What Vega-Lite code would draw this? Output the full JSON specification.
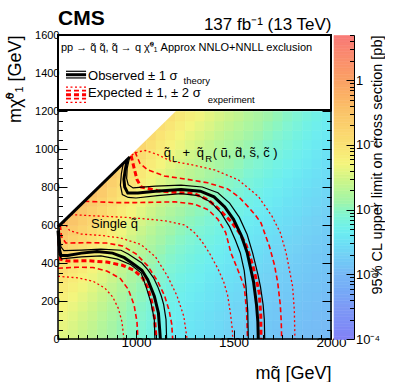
{
"$schema":"https://vega.github.io/schema/vega-lite/v6.json",
"background":"white",
"padding":{"left":6,"top":8,"right":0,"bottom":0},
"config":{"font":"Liberation Sans","view":{"stroke":null},"axis":{"grid":false,"labelColor":"black","titleColor":"black","tickColor":"black","titleFontWeight":"normal"},"title":{"color":"black"}},
"spacing":3,
"bounds":"flush",
"datasets":{
"heat":[
{"x":600,"y":0,"v":-1.43},{"x":600,"y":50,"v":-1.39},{"x":600,"y":100,"v":-1.35},{"x":600,"y":150,"v":-1.28},{"x":600,"y":200,"v":-1.21},{"x":600,"y":250,"v":-1.13},{"x":600,"y":300,"v":-1.04},{"x":600,"y":350,"v":-0.95},{"x":600,"y":400,"v":-0.84},{"x":600,"y":450,"v":-0.74},{"x":600,"y":500,"v":-0.62},{"x":600,"y":550,"v":-0.5},{"x":600,"y":600,"v":-0.38},
{"x":650,"y":0,"v":-1.51},{"x":650,"y":50,"v":-1.48},{"x":650,"y":100,"v":-1.43},{"x":650,"y":150,"v":-1.37},{"x":650,"y":200,"v":-1.31},{"x":650,"y":250,"v":-1.23},{"x":650,"y":300,"v":-1.15},{"x":650,"y":350,"v":-1.06},{"x":650,"y":400,"v":-0.97},{"x":650,"y":450,"v":-0.87},{"x":650,"y":500,"v":-0.76},{"x":650,"y":550,"v":-0.65},{"x":650,"y":600,"v":-0.53},{"x":650,"y":650,"v":-0.41},
{"x":700,"y":0,"v":-1.59},{"x":700,"y":50,"v":-1.56},{"x":700,"y":100,"v":-1.52},{"x":700,"y":150,"v":-1.46},{"x":700,"y":200,"v":-1.4},{"x":700,"y":250,"v":-1.33},{"x":700,"y":300,"v":-1.25},{"x":700,"y":350,"v":-1.17},{"x":700,"y":400,"v":-1.08},{"x":700,"y":450,"v":-0.99},{"x":700,"y":500,"v":-0.89},{"x":700,"y":550,"v":-0.78},{"x":700,"y":600,"v":-0.68},{"x":700,"y":650,"v":-0.56},{"x":700,"y":700,"v":-0.45},
{"x":750,"y":0,"v":-1.67},{"x":750,"y":50,"v":-1.64},{"x":750,"y":100,"v":-1.6},{"x":750,"y":150,"v":-1.55},{"x":750,"y":200,"v":-1.49},{"x":750,"y":250,"v":-1.43},{"x":750,"y":300,"v":-1.36},{"x":750,"y":350,"v":-1.28},{"x":750,"y":400,"v":-1.2},{"x":750,"y":450,"v":-1.11},{"x":750,"y":500,"v":-1.01},{"x":750,"y":550,"v":-0.92},{"x":750,"y":600,"v":-0.82},{"x":750,"y":650,"v":-0.71},{"x":750,"y":700,"v":-0.6},{"x":750,"y":750,"v":-0.49},
{"x":800,"y":0,"v":-1.76},{"x":800,"y":50,"v":-1.74},{"x":800,"y":100,"v":-1.7},{"x":800,"y":150,"v":-1.65},{"x":800,"y":200,"v":-1.59},{"x":800,"y":250,"v":-1.53},{"x":800,"y":300,"v":-1.46},{"x":800,"y":350,"v":-1.39},{"x":800,"y":400,"v":-1.31},{"x":800,"y":450,"v":-1.23},{"x":800,"y":500,"v":-1.14},{"x":800,"y":550,"v":-1.05},{"x":800,"y":600,"v":-0.95},{"x":800,"y":650,"v":-0.85},{"x":800,"y":700,"v":-0.75},{"x":800,"y":750,"v":-0.64},{"x":800,"y":800,"v":-0.53},
{"x":850,"y":0,"v":-1.86},{"x":850,"y":50,"v":-1.84},{"x":850,"y":100,"v":-1.8},{"x":850,"y":150,"v":-1.76},{"x":850,"y":200,"v":-1.7},{"x":850,"y":250,"v":-1.65},{"x":850,"y":300,"v":-1.58},{"x":850,"y":350,"v":-1.51},{"x":850,"y":400,"v":-1.44},{"x":850,"y":450,"v":-1.36},{"x":850,"y":500,"v":-1.28},{"x":850,"y":550,"v":-1.19},{"x":850,"y":600,"v":-1.1},{"x":850,"y":650,"v":-1.01},{"x":850,"y":700,"v":-0.91},{"x":850,"y":750,"v":-0.81},{"x":850,"y":800,"v":-0.71},{"x":850,"y":850,"v":-0.6},
{"x":900,"y":0,"v":-1.96},{"x":900,"y":50,"v":-1.94},{"x":900,"y":100,"v":-1.91},{"x":900,"y":150,"v":-1.86},{"x":900,"y":200,"v":-1.81},{"x":900,"y":250,"v":-1.76},{"x":900,"y":300,"v":-1.7},{"x":900,"y":350,"v":-1.64},{"x":900,"y":400,"v":-1.57},{"x":900,"y":450,"v":-1.5},{"x":900,"y":500,"v":-1.42},{"x":900,"y":550,"v":-1.34},{"x":900,"y":600,"v":-1.25},{"x":900,"y":650,"v":-1.17},{"x":900,"y":700,"v":-1.08},{"x":900,"y":750,"v":-0.98},{"x":900,"y":800,"v":-0.88},{"x":900,"y":850,"v":-0.78},{"x":900,"y":900,"v":-0.68},
{"x":950,"y":0,"v":-2.05},{"x":950,"y":50,"v":-2.03},{"x":950,"y":100,"v":-2.0},{"x":950,"y":150,"v":-1.96},{"x":950,"y":200,"v":-1.92},{"x":950,"y":250,"v":-1.87},{"x":950,"y":300,"v":-1.81},{"x":950,"y":350,"v":-1.75},{"x":950,"y":400,"v":-1.69},{"x":950,"y":450,"v":-1.62},{"x":950,"y":500,"v":-1.55},{"x":950,"y":550,"v":-1.47},{"x":950,"y":600,"v":-1.39},{"x":950,"y":650,"v":-1.31},{"x":950,"y":700,"v":-1.23},{"x":950,"y":750,"v":-1.14},{"x":950,"y":800,"v":-1.05},{"x":950,"y":850,"v":-0.96},{"x":950,"y":900,"v":-0.86},{"x":950,"y":950,"v":-0.76},
{"x":1000,"y":0,"v":-2.13},{"x":1000,"y":50,"v":-2.11},{"x":1000,"y":100,"v":-2.08},{"x":1000,"y":150,"v":-2.05},{"x":1000,"y":200,"v":-2.0},{"x":1000,"y":250,"v":-1.96},{"x":1000,"y":300,"v":-1.91},{"x":1000,"y":350,"v":-1.85},{"x":1000,"y":400,"v":-1.79},{"x":1000,"y":450,"v":-1.72},{"x":1000,"y":500,"v":-1.66},{"x":1000,"y":550,"v":-1.59},{"x":1000,"y":600,"v":-1.51},{"x":1000,"y":650,"v":-1.44},{"x":1000,"y":700,"v":-1.36},{"x":1000,"y":750,"v":-1.27},{"x":1000,"y":800,"v":-1.19},{"x":1000,"y":850,"v":-1.1},{"x":1000,"y":900,"v":-1.01},{"x":1000,"y":950,"v":-0.92},{"x":1000,"y":1000,"v":-0.82},
{"x":1050,"y":0,"v":-2.22},{"x":1050,"y":50,"v":-2.2},{"x":1050,"y":100,"v":-2.17},{"x":1050,"y":150,"v":-2.13},{"x":1050,"y":200,"v":-2.09},{"x":1050,"y":250,"v":-2.05},{"x":1050,"y":300,"v":-2.0},{"x":1050,"y":350,"v":-1.95},{"x":1050,"y":400,"v":-1.89},{"x":1050,"y":450,"v":-1.83},{"x":1050,"y":500,"v":-1.77},{"x":1050,"y":550,"v":-1.7},{"x":1050,"y":600,"v":-1.63},{"x":1050,"y":650,"v":-1.56},{"x":1050,"y":700,"v":-1.49},{"x":1050,"y":750,"v":-1.41},{"x":1050,"y":800,"v":-1.33},{"x":1050,"y":850,"v":-1.25},{"x":1050,"y":900,"v":-1.16},{"x":1050,"y":950,"v":-1.07},{"x":1050,"y":1000,"v":-0.98},{"x":1050,"y":1050,"v":-0.89},
{"x":1100,"y":0,"v":-2.3},{"x":1100,"y":50,"v":-2.28},{"x":1100,"y":100,"v":-2.25},{"x":1100,"y":150,"v":-2.22},{"x":1100,"y":200,"v":-2.18},{"x":1100,"y":250,"v":-2.14},{"x":1100,"y":300,"v":-2.09},{"x":1100,"y":350,"v":-2.04},{"x":1100,"y":400,"v":-1.99},{"x":1100,"y":450,"v":-1.93},{"x":1100,"y":500,"v":-1.87},{"x":1100,"y":550,"v":-1.81},{"x":1100,"y":600,"v":-1.74},{"x":1100,"y":650,"v":-1.67},{"x":1100,"y":700,"v":-1.6},{"x":1100,"y":750,"v":-1.53},{"x":1100,"y":800,"v":-1.45},{"x":1100,"y":850,"v":-1.38},{"x":1100,"y":900,"v":-1.29},{"x":1100,"y":950,"v":-1.21},{"x":1100,"y":1000,"v":-1.13},{"x":1100,"y":1050,"v":-1.04},{"x":1100,"y":1100,"v":-0.95},
{"x":1150,"y":0,"v":-2.37},{"x":1150,"y":50,"v":-2.35},{"x":1150,"y":100,"v":-2.32},{"x":1150,"y":150,"v":-2.29},{"x":1150,"y":200,"v":-2.25},{"x":1150,"y":250,"v":-2.21},{"x":1150,"y":300,"v":-2.17},{"x":1150,"y":350,"v":-2.12},{"x":1150,"y":400,"v":-2.07},{"x":1150,"y":450,"v":-2.02},{"x":1150,"y":500,"v":-1.96},{"x":1150,"y":550,"v":-1.9},{"x":1150,"y":600,"v":-1.84},{"x":1150,"y":650,"v":-1.77},{"x":1150,"y":700,"v":-1.7},{"x":1150,"y":750,"v":-1.63},{"x":1150,"y":800,"v":-1.56},{"x":1150,"y":850,"v":-1.49},{"x":1150,"y":900,"v":-1.41},{"x":1150,"y":950,"v":-1.33},{"x":1150,"y":1000,"v":-1.25},{"x":1150,"y":1050,"v":-1.17},{"x":1150,"y":1100,"v":-1.08},{"x":1150,"y":1150,"v":-0.99},
{"x":1200,"y":0,"v":-2.43},{"x":1200,"y":50,"v":-2.41},{"x":1200,"y":100,"v":-2.38},{"x":1200,"y":150,"v":-2.35},{"x":1200,"y":200,"v":-2.32},{"x":1200,"y":250,"v":-2.28},{"x":1200,"y":300,"v":-2.24},{"x":1200,"y":350,"v":-2.19},{"x":1200,"y":400,"v":-2.14},{"x":1200,"y":450,"v":-2.09},{"x":1200,"y":500,"v":-2.04},{"x":1200,"y":550,"v":-1.98},{"x":1200,"y":600,"v":-1.92},{"x":1200,"y":650,"v":-1.86},{"x":1200,"y":700,"v":-1.79},{"x":1200,"y":750,"v":-1.73},{"x":1200,"y":800,"v":-1.66},{"x":1200,"y":850,"v":-1.59},{"x":1200,"y":900,"v":-1.51},{"x":1200,"y":950,"v":-1.44},{"x":1200,"y":1000,"v":-1.36},{"x":1200,"y":1050,"v":-1.28},{"x":1200,"y":1100,"v":-1.2},{"x":1200,"y":1150,"v":-1.12},
{"x":1250,"y":0,"v":-2.48},{"x":1250,"y":50,"v":-2.46},{"x":1250,"y":100,"v":-2.44},{"x":1250,"y":150,"v":-2.41},{"x":1250,"y":200,"v":-2.38},{"x":1250,"y":250,"v":-2.34},{"x":1250,"y":300,"v":-2.3},{"x":1250,"y":350,"v":-2.25},{"x":1250,"y":400,"v":-2.21},{"x":1250,"y":450,"v":-2.16},{"x":1250,"y":500,"v":-2.11},{"x":1250,"y":550,"v":-2.05},{"x":1250,"y":600,"v":-2.0},{"x":1250,"y":650,"v":-1.94},{"x":1250,"y":700,"v":-1.88},{"x":1250,"y":750,"v":-1.81},{"x":1250,"y":800,"v":-1.75},{"x":1250,"y":850,"v":-1.68},{"x":1250,"y":900,"v":-1.61},{"x":1250,"y":950,"v":-1.54},{"x":1250,"y":1000,"v":-1.46},{"x":1250,"y":1050,"v":-1.39},{"x":1250,"y":1100,"v":-1.31},{"x":1250,"y":1150,"v":-1.23},
{"x":1300,"y":0,"v":-2.53},{"x":1300,"y":50,"v":-2.51},{"x":1300,"y":100,"v":-2.49},{"x":1300,"y":150,"v":-2.46},{"x":1300,"y":200,"v":-2.43},{"x":1300,"y":250,"v":-2.39},{"x":1300,"y":300,"v":-2.35},{"x":1300,"y":350,"v":-2.31},{"x":1300,"y":400,"v":-2.27},{"x":1300,"y":450,"v":-2.22},{"x":1300,"y":500,"v":-2.17},{"x":1300,"y":550,"v":-2.12},{"x":1300,"y":600,"v":-2.06},{"x":1300,"y":650,"v":-2.0},{"x":1300,"y":700,"v":-1.94},{"x":1300,"y":750,"v":-1.88},{"x":1300,"y":800,"v":-1.82},{"x":1300,"y":850,"v":-1.75},{"x":1300,"y":900,"v":-1.68},{"x":1300,"y":950,"v":-1.62},{"x":1300,"y":1000,"v":-1.54},{"x":1300,"y":1050,"v":-1.47},{"x":1300,"y":1100,"v":-1.4},{"x":1300,"y":1150,"v":-1.32},
{"x":1350,"y":0,"v":-2.58},{"x":1350,"y":50,"v":-2.56},{"x":1350,"y":100,"v":-2.54},{"x":1350,"y":150,"v":-2.51},{"x":1350,"y":200,"v":-2.48},{"x":1350,"y":250,"v":-2.45},{"x":1350,"y":300,"v":-2.41},{"x":1350,"y":350,"v":-2.37},{"x":1350,"y":400,"v":-2.33},{"x":1350,"y":450,"v":-2.28},{"x":1350,"y":500,"v":-2.23},{"x":1350,"y":550,"v":-2.18},{"x":1350,"y":600,"v":-2.13},{"x":1350,"y":650,"v":-2.07},{"x":1350,"y":700,"v":-2.01},{"x":1350,"y":750,"v":-1.95},{"x":1350,"y":800,"v":-1.89},{"x":1350,"y":850,"v":-1.83},{"x":1350,"y":900,"v":-1.76},{"x":1350,"y":950,"v":-1.69},{"x":1350,"y":1000,"v":-1.63},{"x":1350,"y":1050,"v":-1.55},{"x":1350,"y":1100,"v":-1.48},{"x":1350,"y":1150,"v":-1.41},
{"x":1400,"y":0,"v":-2.63},{"x":1400,"y":50,"v":-2.61},{"x":1400,"y":100,"v":-2.59},{"x":1400,"y":150,"v":-2.57},{"x":1400,"y":200,"v":-2.53},{"x":1400,"y":250,"v":-2.5},{"x":1400,"y":300,"v":-2.47},{"x":1400,"y":350,"v":-2.43},{"x":1400,"y":400,"v":-2.38},{"x":1400,"y":450,"v":-2.34},{"x":1400,"y":500,"v":-2.29},{"x":1400,"y":550,"v":-2.24},{"x":1400,"y":600,"v":-2.19},{"x":1400,"y":650,"v":-2.14},{"x":1400,"y":700,"v":-2.08},{"x":1400,"y":750,"v":-2.02},{"x":1400,"y":800,"v":-1.96},{"x":1400,"y":850,"v":-1.9},{"x":1400,"y":900,"v":-1.84},{"x":1400,"y":950,"v":-1.77},{"x":1400,"y":1000,"v":-1.71},{"x":1400,"y":1050,"v":-1.64},{"x":1400,"y":1100,"v":-1.57},{"x":1400,"y":1150,"v":-1.5},
{"x":1450,"y":0,"v":-2.68},{"x":1450,"y":50,"v":-2.66},{"x":1450,"y":100,"v":-2.64},{"x":1450,"y":150,"v":-2.62},{"x":1450,"y":200,"v":-2.59},{"x":1450,"y":250,"v":-2.56},{"x":1450,"y":300,"v":-2.52},{"x":1450,"y":350,"v":-2.48},{"x":1450,"y":400,"v":-2.44},{"x":1450,"y":450,"v":-2.4},{"x":1450,"y":500,"v":-2.35},{"x":1450,"y":550,"v":-2.31},{"x":1450,"y":600,"v":-2.26},{"x":1450,"y":650,"v":-2.2},{"x":1450,"y":700,"v":-2.15},{"x":1450,"y":750,"v":-2.09},{"x":1450,"y":800,"v":-2.04},{"x":1450,"y":850,"v":-1.98},{"x":1450,"y":900,"v":-1.91},{"x":1450,"y":950,"v":-1.85},{"x":1450,"y":1000,"v":-1.79},{"x":1450,"y":1050,"v":-1.72},{"x":1450,"y":1100,"v":-1.65},{"x":1450,"y":1150,"v":-1.58},
{"x":1500,"y":0,"v":-2.72},{"x":1500,"y":50,"v":-2.7},{"x":1500,"y":100,"v":-2.68},{"x":1500,"y":150,"v":-2.66},{"x":1500,"y":200,"v":-2.63},{"x":1500,"y":250,"v":-2.6},{"x":1500,"y":300,"v":-2.56},{"x":1500,"y":350,"v":-2.53},{"x":1500,"y":400,"v":-2.49},{"x":1500,"y":450,"v":-2.45},{"x":1500,"y":500,"v":-2.4},{"x":1500,"y":550,"v":-2.35},{"x":1500,"y":600,"v":-2.31},{"x":1500,"y":650,"v":-2.25},{"x":1500,"y":700,"v":-2.2},{"x":1500,"y":750,"v":-2.15},{"x":1500,"y":800,"v":-2.09},{"x":1500,"y":850,"v":-2.03},{"x":1500,"y":900,"v":-1.97},{"x":1500,"y":950,"v":-1.91},{"x":1500,"y":1000,"v":-1.85},{"x":1500,"y":1050,"v":-1.78},{"x":1500,"y":1100,"v":-1.72},{"x":1500,"y":1150,"v":-1.65},
{"x":1550,"y":0,"v":-2.77},{"x":1550,"y":50,"v":-2.75},{"x":1550,"y":100,"v":-2.73},{"x":1550,"y":150,"v":-2.71},{"x":1550,"y":200,"v":-2.68},{"x":1550,"y":250,"v":-2.65},{"x":1550,"y":300,"v":-2.62},{"x":1550,"y":350,"v":-2.58},{"x":1550,"y":400,"v":-2.55},{"x":1550,"y":450,"v":-2.51},{"x":1550,"y":500,"v":-2.46},{"x":1550,"y":550,"v":-2.42},{"x":1550,"y":600,"v":-2.37},{"x":1550,"y":650,"v":-2.32},{"x":1550,"y":700,"v":-2.27},{"x":1550,"y":750,"v":-2.22},{"x":1550,"y":800,"v":-2.16},{"x":1550,"y":850,"v":-2.11},{"x":1550,"y":900,"v":-2.05},{"x":1550,"y":950,"v":-1.99},{"x":1550,"y":1000,"v":-1.93},{"x":1550,"y":1050,"v":-1.87},{"x":1550,"y":1100,"v":-1.8},{"x":1550,"y":1150,"v":-1.74},
{"x":1600,"y":0,"v":-2.8},{"x":1600,"y":50,"v":-2.78},{"x":1600,"y":100,"v":-2.77},{"x":1600,"y":150,"v":-2.74},{"x":1600,"y":200,"v":-2.72},{"x":1600,"y":250,"v":-2.69},{"x":1600,"y":300,"v":-2.66},{"x":1600,"y":350,"v":-2.62},{"x":1600,"y":400,"v":-2.58},{"x":1600,"y":450,"v":-2.54},{"x":1600,"y":500,"v":-2.5},{"x":1600,"y":550,"v":-2.46},{"x":1600,"y":600,"v":-2.41},{"x":1600,"y":650,"v":-2.37},{"x":1600,"y":700,"v":-2.32},{"x":1600,"y":750,"v":-2.27},{"x":1600,"y":800,"v":-2.22},{"x":1600,"y":850,"v":-2.16},{"x":1600,"y":900,"v":-2.11},{"x":1600,"y":950,"v":-2.05},{"x":1600,"y":1000,"v":-1.99},{"x":1600,"y":1050,"v":-1.93},{"x":1600,"y":1100,"v":-1.87},{"x":1600,"y":1150,"v":-1.81},
{"x":1650,"y":0,"v":-2.84},{"x":1650,"y":50,"v":-2.82},{"x":1650,"y":100,"v":-2.81},{"x":1650,"y":150,"v":-2.79},{"x":1650,"y":200,"v":-2.76},{"x":1650,"y":250,"v":-2.73},{"x":1650,"y":300,"v":-2.7},{"x":1650,"y":350,"v":-2.67},{"x":1650,"y":400,"v":-2.64},{"x":1650,"y":450,"v":-2.6},{"x":1650,"y":500,"v":-2.56},{"x":1650,"y":550,"v":-2.52},{"x":1650,"y":600,"v":-2.47},{"x":1650,"y":650,"v":-2.43},{"x":1650,"y":700,"v":-2.38},{"x":1650,"y":750,"v":-2.34},{"x":1650,"y":800,"v":-2.29},{"x":1650,"y":850,"v":-2.23},{"x":1650,"y":900,"v":-2.18},{"x":1650,"y":950,"v":-2.13},{"x":1650,"y":1000,"v":-2.07},{"x":1650,"y":1050,"v":-2.01},{"x":1650,"y":1100,"v":-1.96},{"x":1650,"y":1150,"v":-1.9},
{"x":1700,"y":0,"v":-2.87},{"x":1700,"y":50,"v":-2.86},{"x":1700,"y":100,"v":-2.84},{"x":1700,"y":150,"v":-2.82},{"x":1700,"y":200,"v":-2.79},{"x":1700,"y":250,"v":-2.77},{"x":1700,"y":300,"v":-2.74},{"x":1700,"y":350,"v":-2.71},{"x":1700,"y":400,"v":-2.67},{"x":1700,"y":450,"v":-2.64},{"x":1700,"y":500,"v":-2.6},{"x":1700,"y":550,"v":-2.56},{"x":1700,"y":600,"v":-2.52},{"x":1700,"y":650,"v":-2.48},{"x":1700,"y":700,"v":-2.43},{"x":1700,"y":750,"v":-2.39},{"x":1700,"y":800,"v":-2.34},{"x":1700,"y":850,"v":-2.29},{"x":1700,"y":900,"v":-2.24},{"x":1700,"y":950,"v":-2.19},{"x":1700,"y":1000,"v":-2.13},{"x":1700,"y":1050,"v":-2.08},{"x":1700,"y":1100,"v":-2.02},{"x":1700,"y":1150,"v":-1.97},
{"x":1750,"y":0,"v":-2.9},{"x":1750,"y":50,"v":-2.89},{"x":1750,"y":100,"v":-2.87},{"x":1750,"y":150,"v":-2.85},{"x":1750,"y":200,"v":-2.83},{"x":1750,"y":250,"v":-2.8},{"x":1750,"y":300,"v":-2.78},{"x":1750,"y":350,"v":-2.75},{"x":1750,"y":400,"v":-2.71},{"x":1750,"y":450,"v":-2.68},{"x":1750,"y":500,"v":-2.65},{"x":1750,"y":550,"v":-2.61},{"x":1750,"y":600,"v":-2.57},{"x":1750,"y":650,"v":-2.53},{"x":1750,"y":700,"v":-2.49},{"x":1750,"y":750,"v":-2.44},{"x":1750,"y":800,"v":-2.4},{"x":1750,"y":850,"v":-2.35},{"x":1750,"y":900,"v":-2.3},{"x":1750,"y":950,"v":-2.25},{"x":1750,"y":1000,"v":-2.2},{"x":1750,"y":1050,"v":-2.15},{"x":1750,"y":1100,"v":-2.1},{"x":1750,"y":1150,"v":-2.05},
{"x":1800,"y":0,"v":-2.92},{"x":1800,"y":50,"v":-2.91},{"x":1800,"y":100,"v":-2.89},{"x":1800,"y":150,"v":-2.87},{"x":1800,"y":200,"v":-2.85},{"x":1800,"y":250,"v":-2.83},{"x":1800,"y":300,"v":-2.8},{"x":1800,"y":350,"v":-2.78},{"x":1800,"y":400,"v":-2.75},{"x":1800,"y":450,"v":-2.71},{"x":1800,"y":500,"v":-2.68},{"x":1800,"y":550,"v":-2.65},{"x":1800,"y":600,"v":-2.61},{"x":1800,"y":650,"v":-2.57},{"x":1800,"y":700,"v":-2.53},{"x":1800,"y":750,"v":-2.49},{"x":1800,"y":800,"v":-2.45},{"x":1800,"y":850,"v":-2.4},{"x":1800,"y":900,"v":-2.36},{"x":1800,"y":950,"v":-2.31},{"x":1800,"y":1000,"v":-2.27},{"x":1800,"y":1050,"v":-2.22},{"x":1800,"y":1100,"v":-2.17},{"x":1800,"y":1150,"v":-2.12},
{"x":1850,"y":0,"v":-2.95},{"x":1850,"y":50,"v":-2.94},{"x":1850,"y":100,"v":-2.92},{"x":1850,"y":150,"v":-2.91},{"x":1850,"y":200,"v":-2.89},{"x":1850,"y":250,"v":-2.87},{"x":1850,"y":300,"v":-2.84},{"x":1850,"y":350,"v":-2.81},{"x":1850,"y":400,"v":-2.79},{"x":1850,"y":450,"v":-2.76},{"x":1850,"y":500,"v":-2.73},{"x":1850,"y":550,"v":-2.69},{"x":1850,"y":600,"v":-2.66},{"x":1850,"y":650,"v":-2.62},{"x":1850,"y":700,"v":-2.59},{"x":1850,"y":750,"v":-2.55},{"x":1850,"y":800,"v":-2.51},{"x":1850,"y":850,"v":-2.47},{"x":1850,"y":900,"v":-2.42},{"x":1850,"y":950,"v":-2.38},{"x":1850,"y":1000,"v":-2.34},{"x":1850,"y":1050,"v":-2.29},{"x":1850,"y":1100,"v":-2.25},{"x":1850,"y":1150,"v":-2.2},
{"x":1900,"y":0,"v":-2.97},{"x":1900,"y":50,"v":-2.96},{"x":1900,"y":100,"v":-2.95},{"x":1900,"y":150,"v":-2.93},{"x":1900,"y":200,"v":-2.91},{"x":1900,"y":250,"v":-2.89},{"x":1900,"y":300,"v":-2.87},{"x":1900,"y":350,"v":-2.84},{"x":1900,"y":400,"v":-2.82},{"x":1900,"y":450,"v":-2.79},{"x":1900,"y":500,"v":-2.76},{"x":1900,"y":550,"v":-2.73},{"x":1900,"y":600,"v":-2.7},{"x":1900,"y":650,"v":-2.66},{"x":1900,"y":700,"v":-2.63},{"x":1900,"y":750,"v":-2.59},{"x":1900,"y":800,"v":-2.56},{"x":1900,"y":850,"v":-2.52},{"x":1900,"y":900,"v":-2.48},{"x":1900,"y":950,"v":-2.44},{"x":1900,"y":1000,"v":-2.4},{"x":1900,"y":1050,"v":-2.36},{"x":1900,"y":1100,"v":-2.31},{"x":1900,"y":1150,"v":-2.27},
{"x":1950,"y":0,"v":-2.99},{"x":1950,"y":50,"v":-2.98},{"x":1950,"y":100,"v":-2.97},{"x":1950,"y":150,"v":-2.95},{"x":1950,"y":200,"v":-2.94},{"x":1950,"y":250,"v":-2.92},{"x":1950,"y":300,"v":-2.9},{"x":1950,"y":350,"v":-2.87},{"x":1950,"y":400,"v":-2.85},{"x":1950,"y":450,"v":-2.82},{"x":1950,"y":500,"v":-2.8},{"x":1950,"y":550,"v":-2.77},{"x":1950,"y":600,"v":-2.74},{"x":1950,"y":650,"v":-2.71},{"x":1950,"y":700,"v":-2.68},{"x":1950,"y":750,"v":-2.64},{"x":1950,"y":800,"v":-2.61},{"x":1950,"y":850,"v":-2.57},{"x":1950,"y":900,"v":-2.54},{"x":1950,"y":950,"v":-2.5},{"x":1950,"y":1000,"v":-2.46},{"x":1950,"y":1050,"v":-2.42},{"x":1950,"y":1100,"v":-2.38},{"x":1950,"y":1150,"v":-2.34}
],
"cont":[
{"c":"Oi","x":600,"y":570},{"c":"Oi","x":604,"y":520},{"c":"Oi","x":608,"y":470},{"c":"Oi","x":615,"y":440},{"c":"Oi","x":650,"y":440},{"c":"Oi","x":720,"y":452},{"c":"Oi","x":800,"y":460},{"c":"Oi","x":880,"y":452},{"c":"Oi","x":940,"y":428},{"c":"Oi","x":990,"y":392},{"c":"Oi","x":1030,"y":362},{"c":"Oi","x":1060,"y":312},{"c":"Oi","x":1094,"y":225},{"c":"Oi","x":1115,"y":137},{"c":"Oi","x":1125,"y":0},
{"c":"T+i","x":606,"y":585},{"c":"T+i","x":610,"y":530},{"c":"T+i","x":615,"y":485},{"c":"T+i","x":630,"y":465},{"c":"T+i","x":720,"y":468},{"c":"T+i","x":820,"y":473},{"c":"T+i","x":923,"y":467},{"c":"T+i","x":960,"y":447},{"c":"T+i","x":991,"y":426},{"c":"T+i","x":1030,"y":400},{"c":"T+i","x":1060,"y":365},{"c":"T+i","x":1090,"y":322},{"c":"T+i","x":1111,"y":277},{"c":"T+i","x":1130,"y":225},{"c":"T+i","x":1142,"y":181},{"c":"T+i","x":1154,"y":102},{"c":"T+i","x":1157,"y":0},
{"c":"T-i","x":600,"y":548},{"c":"T-i","x":603,"y":480},{"c":"T-i","x":608,"y":440},{"c":"T-i","x":618,"y":422},{"c":"T-i","x":720,"y":432},{"c":"T-i","x":820,"y":437},{"c":"T-i","x":906,"y":420},{"c":"T-i","x":974,"y":391},{"c":"T-i","x":1026,"y":348},{"c":"T-i","x":1051,"y":277},{"c":"T-i","x":1077,"y":190},{"c":"T-i","x":1094,"y":102},{"c":"T-i","x":1097,"y":0},
{"c":"Ei","x":603,"y":560},{"c":"Ei","x":606,"y":480},{"c":"Ei","x":612,"y":420},{"c":"Ei","x":650,"y":410},{"c":"Ei","x":750,"y":412},{"c":"Ei","x":850,"y":405},{"c":"Ei","x":930,"y":388},{"c":"Ei","x":990,"y":362},{"c":"Ei","x":1035,"y":320},{"c":"Ei","x":1060,"y":270},{"c":"Ei","x":1080,"y":200},{"c":"Ei","x":1095,"y":110},{"c":"Ei","x":1103,"y":0},
{"c":"S+i","x":612,"y":600},{"c":"S+i","x":618,"y":540},{"c":"S+i","x":640,"y":505},{"c":"S+i","x":750,"y":507},{"c":"S+i","x":850,"y":505},{"c":"S+i","x":930,"y":490},{"c":"S+i","x":1000,"y":448},{"c":"S+i","x":1060,"y":385},{"c":"S+i","x":1110,"y":305},{"c":"S+i","x":1145,"y":232},{"c":"S+i","x":1170,"y":150},{"c":"S+i","x":1183,"y":80},{"c":"S+i","x":1188,"y":0},
{"c":"S-i","x":600,"y":372},{"c":"S-i","x":700,"y":378},{"c":"S-i","x":780,"y":376},{"c":"S-i","x":850,"y":358},{"c":"S-i","x":920,"y":318},{"c":"S-i","x":960,"y":262},{"c":"S-i","x":990,"y":180},{"c":"S-i","x":1005,"y":90},{"c":"S-i","x":1010,"y":0},
{"c":"D+i","x":628,"y":618},{"c":"D+i","x":660,"y":570},{"c":"D+i","x":720,"y":552},{"c":"D+i","x":820,"y":545},{"c":"D+i","x":920,"y":532},{"c":"D+i","x":1026,"y":497},{"c":"D+i","x":1100,"y":432},{"c":"D+i","x":1162,"y":330},{"c":"D+i","x":1210,"y":228},{"c":"D+i","x":1245,"y":120},{"c":"D+i","x":1262,"y":0},
{"c":"D-i","x":600,"y":330},{"c":"D-i","x":700,"y":322},{"c":"D-i","x":780,"y":304},{"c":"D-i","x":840,"y":268},{"c":"D-i","x":880,"y":222},{"c":"D-i","x":910,"y":160},{"c":"D-i","x":928,"y":90},{"c":"D-i","x":938,"y":0},
{"c":"Oo","x":955,"y":945},{"c":"Oo","x":945,"y":890},{"c":"Oo","x":938,"y":840},{"c":"Oo","x":942,"y":800},{"c":"Oo","x":958,"y":768},{"c":"Oo","x":1010,"y":768},{"c":"Oo","x":1100,"y":778},{"c":"Oo","x":1231,"y":787},{"c":"Oo","x":1330,"y":778},{"c":"Oo","x":1400,"y":748},{"c":"Oo","x":1455,"y":695},{"c":"Oo","x":1500,"y":630},{"c":"Oo","x":1540,"y":545},{"c":"Oo","x":1570,"y":455},{"c":"Oo","x":1603,"y":300},{"c":"Oo","x":1618,"y":180},{"c":"Oo","x":1625,"y":90},{"c":"Oo","x":1627,"y":0},
{"c":"T+o","x":968,"y":958},{"c":"T+o","x":955,"y":900},{"c":"T+o","x":952,"y":845},{"c":"T+o","x":960,"y":812},{"c":"T+o","x":985,"y":795},{"c":"T+o","x":1100,"y":805},{"c":"T+o","x":1231,"y":810},{"c":"T+o","x":1340,"y":800},{"c":"T+o","x":1420,"y":770},{"c":"T+o","x":1480,"y":715},{"c":"T+o","x":1530,"y":640},{"c":"T+o","x":1570,"y":550},{"c":"T+o","x":1598,"y":453},{"c":"T+o","x":1625,"y":340},{"c":"T+o","x":1638,"y":277},{"c":"T+o","x":1652,"y":180},{"c":"T+o","x":1658,"y":102},{"c":"T+o","x":1660,"y":0},
{"c":"T-o","x":935,"y":925},{"c":"T-o","x":925,"y":870},{"c":"T-o","x":920,"y":810},{"c":"T-o","x":930,"y":760},{"c":"T-o","x":960,"y":745},{"c":"T-o","x":1000,"y":742},{"c":"T-o","x":1110,"y":755},{"c":"T-o","x":1231,"y":765},{"c":"T-o","x":1320,"y":755},{"c":"T-o","x":1385,"y":720},{"c":"T-o","x":1435,"y":665},{"c":"T-o","x":1480,"y":590},{"c":"T-o","x":1510,"y":520},{"c":"T-o","x":1535,"y":453},{"c":"T-o","x":1555,"y":360},{"c":"T-o","x":1564,"y":277},{"c":"T-o","x":1573,"y":150},{"c":"T-o","x":1576,"y":0},
{"c":"Eo","x":975,"y":965},{"c":"Eo","x":990,"y":900},{"c":"Eo","x":1005,"y":840},{"c":"Eo","x":1026,"y":800},{"c":"Eo","x":1111,"y":780},{"c":"Eo","x":1195,"y":772},{"c":"Eo","x":1300,"y":764},{"c":"Eo","x":1370,"y":732},{"c":"Eo","x":1419,"y":689},{"c":"Eo","x":1487,"y":619},{"c":"Eo","x":1530,"y":560},{"c":"Eo","x":1564,"y":496},{"c":"Eo","x":1598,"y":391},{"c":"Eo","x":1620,"y":300},{"c":"Eo","x":1632,"y":242},{"c":"Eo","x":1640,"y":120},{"c":"Eo","x":1641,"y":0},
{"c":"S+o","x":995,"y":985},{"c":"S+o","x":1020,"y":925},{"c":"S+o","x":1060,"y":890},{"c":"S+o","x":1145,"y":858},{"c":"S+o","x":1265,"y":840},{"c":"S+o","x":1368,"y":822},{"c":"S+o","x":1470,"y":790},{"c":"S+o","x":1530,"y":745},{"c":"S+o","x":1573,"y":698},{"c":"S+o","x":1610,"y":655},{"c":"S+o","x":1641,"y":611},{"c":"S+o","x":1684,"y":488},{"c":"S+o","x":1710,"y":390},{"c":"S+o","x":1727,"y":295},{"c":"S+o","x":1740,"y":180},{"c":"S+o","x":1745,"y":90},{"c":"S+o","x":1747,"y":0},
{"c":"S-o","x":735,"y":725},{"c":"S-o","x":800,"y":722},{"c":"S-o","x":900,"y":718},{"c":"S-o","x":1000,"y":718},{"c":"S-o","x":1100,"y":720},{"c":"S-o","x":1200,"y":722},{"c":"S-o","x":1300,"y":710},{"c":"S-o","x":1370,"y":680},{"c":"S-o","x":1420,"y":630},{"c":"S-o","x":1460,"y":560},{"c":"S-o","x":1487,"y":453},{"c":"S-o","x":1520,"y":370},{"c":"S-o","x":1555,"y":277},{"c":"S-o","x":1567,"y":150},{"c":"S-o","x":1572,"y":0},
{"c":"D+o","x":978,"y":968},{"c":"D+o","x":1010,"y":985},{"c":"D+o","x":1047,"y":992},{"c":"D+o","x":1108,"y":972},{"c":"D+o","x":1177,"y":937},{"c":"D+o","x":1281,"y":918},{"c":"D+o","x":1403,"y":890},{"c":"D+o","x":1524,"y":838},{"c":"D+o","x":1628,"y":750},{"c":"D+o","x":1698,"y":645},{"c":"D+o","x":1740,"y":560},{"c":"D+o","x":1770,"y":453},{"c":"D+o","x":1803,"y":277},{"c":"D+o","x":1812,"y":150},{"c":"D+o","x":1815,"y":0},
{"c":"D-o","x":665,"y":655},{"c":"D-o","x":750,"y":650},{"c":"D-o","x":850,"y":645},{"c":"D-o","x":950,"y":640},{"c":"D-o","x":1050,"y":632},{"c":"D-o","x":1150,"y":622},{"c":"D-o","x":1250,"y":600},{"c":"D-o","x":1300,"y":560},{"c":"D-o","x":1340,"y":510},{"c":"D-o","x":1376,"y":453},{"c":"D-o","x":1420,"y":370},{"c":"D-o","x":1450,"y":300},{"c":"D-o","x":1470,"y":230},{"c":"D-o","x":1485,"y":130},{"c":"D-o","x":1494,"y":50},{"c":"D-o","x":1496,"y":0},
{"c":"Od","x":600,"y":590},{"c":"Od","x":968,"y":958},
{"c":"Ol","x":641,"y":1391},{"c":"Ol","x":744,"y":1391},
{"c":"T+l","x":641,"y":1409},{"c":"T+l","x":744,"y":1409},
{"c":"T-l","x":641,"y":1374},{"c":"T-l","x":744,"y":1374},
{"c":"El","x":641,"y":1286},{"c":"El","x":744,"y":1286},
{"c":"S+l","x":641,"y":1307},{"c":"S+l","x":744,"y":1307},
{"c":"S-l","x":641,"y":1265},{"c":"S-l","x":744,"y":1265},
{"c":"D+l","x":641,"y":1326},{"c":"D+l","x":744,"y":1326},
{"c":"D-l","x":641,"y":1245},{"c":"D-l","x":744,"y":1245}
],
"cbar":[
{"v":-4},{"v":-3.95},{"v":-3.9},{"v":-3.85},{"v":-3.8},{"v":-3.75},{"v":-3.7},{"v":-3.65},{"v":-3.6},{"v":-3.55},{"v":-3.5},{"v":-3.45},{"v":-3.4},{"v":-3.35},{"v":-3.3},{"v":-3.25},{"v":-3.2},{"v":-3.15},{"v":-3.1},{"v":-3.05},{"v":-3},{"v":-2.95},{"v":-2.9},{"v":-2.85},{"v":-2.8},{"v":-2.75},{"v":-2.7},{"v":-2.65},{"v":-2.6},{"v":-2.55},{"v":-2.5},{"v":-2.45},{"v":-2.4},{"v":-2.35},{"v":-2.3},{"v":-2.25},{"v":-2.2},{"v":-2.15},{"v":-2.1},{"v":-2.05},{"v":-2},{"v":-1.95},{"v":-1.9},{"v":-1.85},{"v":-1.8},{"v":-1.75},{"v":-1.7},{"v":-1.65},{"v":-1.6},{"v":-1.55},{"v":-1.5},{"v":-1.45},{"v":-1.4},{"v":-1.35},{"v":-1.3},{"v":-1.25},{"v":-1.2},{"v":-1.15},{"v":-1.1},{"v":-1.05},{"v":-1},{"v":-0.95},{"v":-0.9},{"v":-0.85},{"v":-0.8},{"v":-0.75},{"v":-0.7},{"v":-0.65},{"v":-0.6},{"v":-0.55},{"v":-0.5},{"v":-0.45},{"v":-0.4},{"v":-0.35},{"v":-0.3},{"v":-0.25},{"v":-0.2},{"v":-0.15},{"v":-0.1},{"v":-0.05},{"v":0},{"v":0.05},{"v":0.1},{"v":0.15},{"v":0.2},{"v":0.25},{"v":0.3},{"v":0.35},{"v":0.4},{"v":0.45},{"v":0.5},{"v":0.55},{"v":0.6},{"v":0.65}
]
},
"hconcat":[
{
"width":273,"height":304,
"title":{"text":"CMS","anchor":"start","frame":"group","fontSize":21,"fontWeight":"bold","color":"black","baseline":"alphabetic","offset":-13,"dy":18},
"layer":[
{"data":{"name":"heat"},"mark":{"type":"rect","strokeWidth":0.6},
"encoding":{"x":{"field":"x","type":"quantitative","bin":{"binned":true,"step":50},"scale":{"domain":[600,2000],"nice":false,"zero":false},"axis":null},
"y":{"field":"y","type":"quantitative","bin":{"binned":true,"step":50},"scale":{"domain":[0,1600],"nice":false,"zero":false},"axis":null},
"color":{"field":"v","type":"quantitative","legend":null,"scale":{"domain":[-4,-3.5,-3,-2.7,-2.35,-2.1,-1.9,-1.6,-1.3,-1,-0.5,0,0.35,0.7],"range":["#8282f5","#7d9bf5","#78b9f5","#73d2f5","#6eeef0","#82f5d2","#a0f5aa","#c8f58c","#f5f57d","#fae173","#fac369","#faa064","#fa8c6e","#f87878"],"clamp":true}},
"stroke":{"field":"v","type":"quantitative","legend":null,"scale":{"domain":[-4,-3.5,-3,-2.7,-2.35,-2.1,-1.9,-1.6,-1.3,-1,-0.5,0,0.35,0.7],"range":["#8282f5","#7d9bf5","#78b9f5","#73d2f5","#6eeef0","#82f5d2","#a0f5aa","#c8f58c","#f5f57d","#fae173","#fac369","#faa064","#fa8c6e","#f87878"],"clamp":true}}}},
{"data":{"values":[{"x":600,"lo":595,"hi":1212},{"x":1217,"lo":1212,"hi":1212}]},"mark":{"type":"area","color":"white"},
"encoding":{"x":{"field":"x","type":"quantitative","scale":{"domain":[600,2000],"nice":false,"zero":false},"axis":null},"y":{"field":"lo","type":"quantitative","scale":{"domain":[0,1600],"nice":false,"zero":false},"axis":null},"y2":{"field":"hi"}}},
{"data":{"values":[{"x":600,"x2":2000,"y":1205,"y2":1600}]},"mark":{"type":"rect","fill":"white","stroke":"black","strokeWidth":2},
"encoding":{"x":{"field":"x","type":"quantitative","scale":{"domain":[600,2000],"nice":false,"zero":false},
"axis":{"orient":"top","labels":false,"ticks":false,"domain":false,"grid":false,"title":"137 fb⁻¹ (13 TeV)","titleFontSize":17,"titleFontWeight":"normal","titleAnchor":"end","titlePadding":6,"titleBaseline":"alphabetic"}},
"x2":{"field":"x2"},
"y":{"field":"y","type":"quantitative","scale":{"domain":[0,1600],"nice":false,"zero":false},
"axis":{"orient":"right","values":[0,50,100,150,200,250,300,350,400,450,500,550,600,650,700,750,800,850,900,950,1000,1050,1100,1150,1200,1250,1300,1350,1400,1450,1500,1550,1600],"labels":false,"domain":false,"grid":false,"zindex":1,"title":null,"tickColor":"black","tickWidth":1,"tickSize":{"condition":{"test":"datum.value%200==0","value":-9},"value":-4.5},"tickOpacity":{"condition":{"test":"datum.value>1200","value":0},"value":1}}},
"y2":{"field":"y2"}}},
{"data":{"name":"cont"},"transform":[{"filter":"indexof(datum.c,'D')==0"}],"mark":{"type":"line","color":"#ff0000","strokeWidth":1.3,"strokeDash":[2,2.5]},
"encoding":{"x":{"field":"x","type":"quantitative","scale":{"domain":[600,2000],"nice":false,"zero":false},"axis":null},"y":{"field":"y","type":"quantitative","scale":{"domain":[0,1600],"nice":false,"zero":false},"axis":null},"detail":{"field":"c"},"order":{"value":null}}},
{"data":{"name":"cont"},"transform":[{"filter":"indexof(datum.c,'S')==0"}],"mark":{"type":"line","color":"#ff0000","strokeWidth":1.6,"strokeDash":[5,3]},
"encoding":{"x":{"field":"x","type":"quantitative","scale":{"domain":[600,2000],"nice":false,"zero":false},"axis":null},"y":{"field":"y","type":"quantitative","scale":{"domain":[0,1600],"nice":false,"zero":false},"axis":null},"detail":{"field":"c"},"order":{"value":null}}},
{"data":{"name":"cont"},"transform":[{"filter":"indexof(datum.c,'E')==0"}],"mark":{"type":"line","color":"#ff0000","strokeWidth":3,"strokeDash":[5,3]},
"encoding":{"x":{"field":"x","type":"quantitative","scale":{"domain":[600,2000],"nice":false,"zero":false},"axis":null},"y":{"field":"y","type":"quantitative","scale":{"domain":[0,1600],"nice":false,"zero":false},"axis":null},"detail":{"field":"c"},"order":{"value":null}}},
{"data":{"name":"cont"},"transform":[{"filter":"indexof(datum.c,'T')==0"}],"mark":{"type":"line","color":"black","strokeWidth":1.2},
"encoding":{"x":{"field":"x","type":"quantitative","scale":{"domain":[600,2000],"nice":false,"zero":false},"axis":null},"y":{"field":"y","type":"quantitative","scale":{"domain":[0,1600],"nice":false,"zero":false},"axis":null},"detail":{"field":"c"},"order":{"value":null}}},
{"data":{"name":"cont"},"transform":[{"filter":"indexof(datum.c,'O')==0"}],"mark":{"type":"line","color":"black","strokeWidth":3},
"encoding":{"x":{"field":"x","type":"quantitative","scale":{"domain":[600,2000],"nice":false,"zero":false},
"axis":{"orient":"bottom","values":[600,650,700,750,800,850,900,950,1000,1050,1100,1150,1200,1250,1300,1350,1400,1450,1500,1550,1600,1650,1700,1750,1800,1850,1900,1950,2000],"format":"d","labelExpr":"(datum.value==1000||datum.value==1500||datum.value==2000)?datum.label:''","labelFlush":false,"labelOverlap":false,"labelFontSize":13.5,"labelPadding":5,"tickColor":"black","tickWidth":1,"tickSize":{"condition":{"test":"datum.value%500==0","value":-9},"value":-4.5},"domain":false,"grid":false,"zindex":1,"title":"mq̃ [GeV]","titleFontSize":18,"titleFontWeight":"normal","titleAnchor":"end","titlePadding":11}},
"y":{"field":"y","type":"quantitative","scale":{"domain":[0,1600],"nice":false,"zero":false},
"axis":{"orient":"left","values":[0,50,100,150,200,250,300,350,400,450,500,550,600,650,700,750,800,850,900,950,1000,1050,1100,1150,1200,1250,1300,1350,1400,1450,1500,1550,1600],"format":"d","labelExpr":"datum.value%200==0?datum.label:''","labelFlush":false,"labelOverlap":false,"labelFontSize":11,"labelPadding":8,"tickColor":"black","tickWidth":1,"tickSize":{"condition":{"test":"datum.value%200==0","value":-9},"value":-4.5},"tickOpacity":{"condition":{"test":"datum.value>1200","value":0},"value":1},"domain":false,"grid":false,"zindex":1,"title":"mχ̃⁰₁ [GeV]","titleFontSize":18,"titleFontWeight":"normal","titleAnchor":"end","titlePadding":10}},
"detail":{"field":"c"},"order":{"value":null}}},
{"data":{"values":[{"t":"pp → q̃ q̃, q̃ → q χ̃⁰₁ Approx NNLO+NNLL exclusion","x":615,"y":1516}]},"mark":{"type":"text","align":"left","baseline":"alphabetic","fontSize":11,"color":"black"},
"encoding":{"x":{"field":"x","type":"quantitative","scale":{"domain":[600,2000],"nice":false,"zero":false},"axis":null},"y":{"field":"y","type":"quantitative","scale":{"domain":[0,1600],"nice":false,"zero":false},"axis":null},"text":{"field":"t"}}},
{"data":{"values":[{"t":"Observed ± 1 σ","x":754,"y":1362},{"t":"Expected ± 1, ± 2 σ","x":754,"y":1272},{"t":"Single q̃","x":769,"y":584},{"t":"q̃","x":1142,"y":958},{"t":"+","x":1239,"y":958},{"t":"q̃","x":1311,"y":958},{"t":"( ũ, d̃, s̃, c̃ )","x":1393,"y":958}]},"mark":{"type":"text","align":"left","baseline":"alphabetic","fontSize":13,"color":"black"},
"encoding":{"x":{"field":"x","type":"quantitative","scale":{"domain":[600,2000],"nice":false,"zero":false},"axis":null},"y":{"field":"y","type":"quantitative","scale":{"domain":[0,1600],"nice":false,"zero":false},"axis":null},"text":{"field":"t"}}},
{"data":{"values":[{"t":"theory","x":1244,"y":1340},{"t":"experiment","x":1368,"y":1242},{"t":"L","x":1185,"y":932},{"t":"R","x":1355,"y":932}]},"mark":{"type":"text","align":"left","baseline":"alphabetic","fontSize":9.5,"color":"black"},
"encoding":{"x":{"field":"x","type":"quantitative","scale":{"domain":[600,2000],"nice":false,"zero":false},"axis":null},"y":{"field":"y","type":"quantitative","scale":{"domain":[0,1600],"nice":false,"zero":false},"axis":null},"text":{"field":"t"}}},
{"data":{"values":[{"x":600,"x2":2000,"y":0,"y2":1600}]},"mark":{"type":"rect","fillOpacity":0,"stroke":"black","strokeWidth":1.5},
"encoding":{"x":{"field":"x","type":"quantitative","scale":{"domain":[600,2000],"nice":false,"zero":false},"axis":null},"x2":{"field":"x2"},"y":{"field":"y","type":"quantitative","scale":{"domain":[0,1600],"nice":false,"zero":false},"axis":null},"y2":{"field":"y2"}}}
]
},
{
"width":20,"height":304,
"data":{"name":"cbar"},
"mark":{"type":"rect","strokeWidth":0.6},
"encoding":{
"x":{"value":0},"x2":{"value":"width"},
"y":{"field":"v","type":"quantitative","bin":{"binned":true,"step":0.05},"scale":{"domain":[-4,0.7],"nice":false,"zero":false},
"axis":{"orient":"right","values":[-4,-3.699,-3.523,-3.398,-3.301,-3.222,-3.155,-3.097,-3.046,-3,-2.699,-2.523,-2.398,-2.301,-2.222,-2.155,-2.097,-2.046,-2,-1.699,-1.523,-1.398,-1.301,-1.222,-1.155,-1.097,-1.046,-1,-0.699,-0.523,-0.398,-0.301,-0.222,-0.155,-0.097,-0.046,0,0.301,0.477,0.602,0.699],
"labelExpr":"datum.value==0?'1':datum.value==-1?'10⁻¹':datum.value==-2?'10⁻²':datum.value==-3?'10⁻³':datum.value==-4?'10⁻⁴':''","labelFlush":false,"labelOverlap":false,"labelFontSize":13,"labelPadding":9.5,
"tickColor":"black","tickWidth":1,"tickSize":{"condition":{"test":"datum.value==round(datum.value)","value":-8},"value":-4.5},
"domain":true,"domainColor":"black","domainWidth":1,"grid":false,"zindex":1,
"title":"95% CL upper limit on cross section [pb]","titleAngle":270,"titleFontSize":14.5,"titleFontWeight":"normal","titleAnchor":"end","titlePadding":5}},
"color":{"field":"v","type":"quantitative","legend":null,"scale":{"domain":[-4,-3.5,-3,-2.7,-2.35,-2.1,-1.9,-1.6,-1.3,-1,-0.5,0,0.35,0.7],"range":["#8282f5","#7d9bf5","#78b9f5","#73d2f5","#6eeef0","#82f5d2","#a0f5aa","#c8f58c","#f5f57d","#fae173","#fac369","#faa064","#fa8c6e","#f87878"],"clamp":true}},
"stroke":{"field":"v","type":"quantitative","legend":null,"scale":{"domain":[-4,-3.5,-3,-2.7,-2.35,-2.1,-1.9,-1.6,-1.3,-1,-0.5,0,0.35,0.7],"range":["#8282f5","#7d9bf5","#78b9f5","#73d2f5","#6eeef0","#82f5d2","#a0f5aa","#c8f58c","#f5f57d","#fae173","#fac369","#faa064","#fa8c6e","#f87878"],"clamp":true}}
}
}
]
}
